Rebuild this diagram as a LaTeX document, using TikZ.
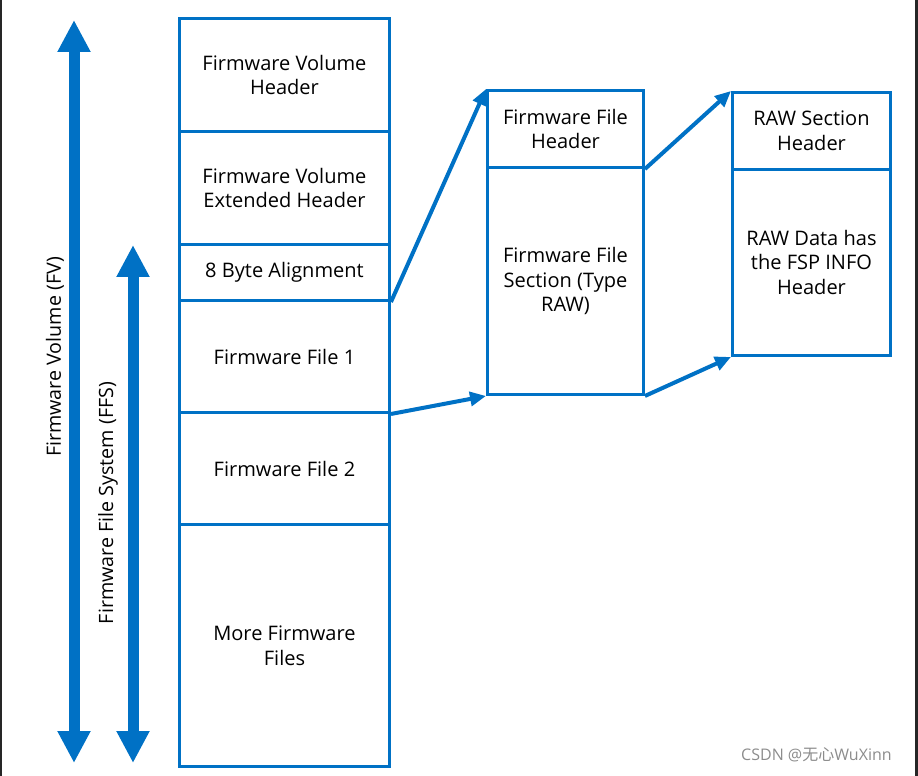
\documentclass[tikz,border=0pt]{standalone}
\usepackage{fontspec}
\setmainfont{Open Sans}
\newfontfamily\cjkwm{Noto Sans CJK SC}
\usetikzlibrary{arrows.meta}
\definecolor{fwblue}{HTML}{0071C5}
\definecolor{wmgray}{HTML}{8C8C8C}
\tikzset{
  blk/.style={draw=fwblue, line width=0.06cm, rectangle, align=center,
    inner sep=0pt, font=\fontsize{11.4}{14.2}\selectfont, anchor=north west},
  bigarrow/.style={fwblue, line width=0.22cm,
    {Triangle[length=0.64cm,width=0.62cm]}-{Triangle[length=0.64cm,width=0.62cm]}},
  link/.style={fwblue, line width=0.08cm, -{Triangle[length=0.32cm,width=0.28cm]}}
}
\begin{document}
\begin{tikzpicture}[x=0.02cm, y=-0.02cm]
  \useasboundingbox (0,0) rectangle (918,776);
  % screenshot edges
  \fill[black!85] (0,0) rectangle (1.5,776);
  \fill[black!85] (915,0) rectangle (918,776);

  % firmware volume column
  \node[blk, minimum width=4.2cm, minimum height=2.26cm] (fvh) at (178,17) {Firmware Volume\\Header};
  \node[blk, minimum width=4.2cm, minimum height=2.26cm] (fveh) at (178,130) {Firmware Volume\\Extended Header};
  \node[blk, minimum width=4.2cm, minimum height=1.12cm] (align) at (178,243) {8 Byte Alignment};
  \node[blk, minimum width=4.2cm, minimum height=2.24cm] (file1) at (178,299) {Firmware File 1};
  \node[blk, minimum width=4.2cm, minimum height=2.24cm] (file2) at (178,411) {Firmware File 2};
  \node[blk, minimum width=4.2cm, minimum height=4.84cm] (more) at (178,523) {More Firmware\\Files};

  % firmware file
  \node[blk, minimum width=3.12cm, minimum height=1.54cm] (ffh) at (486,89) {Firmware File\\Header};
  \node[blk, minimum width=3.12cm, minimum height=4.54cm] (ffsec) at (486,166) {Firmware File\\Section (Type\\RAW)};

  % raw section
  \node[blk, minimum width=3.16cm, minimum height=1.54cm] (rsh) at (731,91) {RAW Section\\Header};
  \node[blk, minimum width=3.16cm, minimum height=3.72cm] (rdata) at (731,168) {RAW Data has\\the FSP INFO\\Header};

  % zoom links
  \draw[link] (align.south east) -- (ffh.north west);
  \draw[link] (file1.south east) -- (ffsec.south west);
  \draw[link] (ffh.south east) -- (rsh.north west);
  \draw[link] (ffsec.south east) -- (rdata.south west);

  % extent arrows
  \coordinate (fvtop) at (74,20);
  \coordinate (fvbot) at (74,763);
  \coordinate (ffstop) at (133,245);
  \coordinate (ffsbot) at (133,763);
  \draw[bigarrow] (fvtop) -- (fvbot);
  \draw[bigarrow] (ffstop) -- (ffsbot);
  \node[rotate=90, font=\fontsize{11.2}{14}\selectfont] (fvlbl) at (55,357) {Firmware Volume (FV)};
  \node[rotate=90, font=\fontsize{11.2}{14}\selectfont] (ffslbl) at (108,503) {Firmware File System (FFS)};

  % watermark
  \node[wmgray, inner sep=0pt, font=\fontsize{9.1}{11}\selectfont, anchor=east] (wm) at (892,755) {CSDN @{\cjkwm 无心}WuXinn};
\end{tikzpicture}
\end{document}
